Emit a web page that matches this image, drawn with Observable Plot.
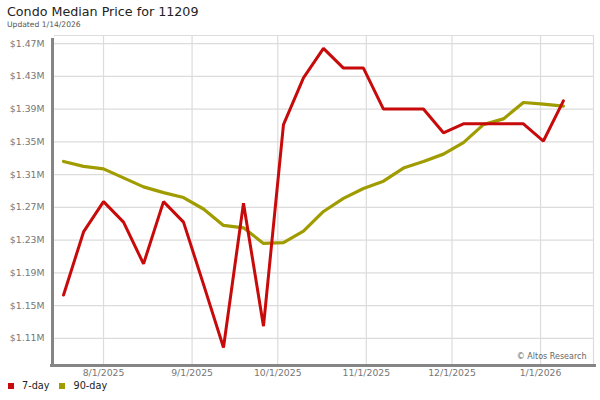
<!DOCTYPE html>
<html><head><meta charset="utf-8">
<script src="https://cdn.jsdelivr.net/npm/d3@7"></script>
<script src="https://cdn.jsdelivr.net/npm/@observablehq/plot@0.6"></script>
<style>
html,body{margin:0;padding:0;background:#fff;}
body{font-family:"DejaVu Sans",sans-serif;width:600px;height:400px;position:relative;overflow:hidden;}
#head{height:32px;position:relative;}
#title{position:absolute;left:7px;top:4px;font-size:12.7px;color:#222;white-space:nowrap;}
#sub{position:absolute;left:7px;top:20px;font-size:7.6px;color:#555;white-space:nowrap;}
#chart svg{display:block;overflow:visible;}
#legend{position:absolute;left:8px;top:380px;font-size:9.7px;color:#222;display:flex;align-items:center;white-space:nowrap;}
#legend .sw{display:inline-block;width:6px;height:6px;margin-right:8px;}
#legend .item{display:flex;align-items:center;margin-right:10px;}
</style>
</head><body>
<div id="head"><div id="title">Condo Median Price for 11209</div><div id="sub">Updated 1/14/2026</div></div>
<div id="chart"></div>
<div id="legend"></div>
<script>
const dates = ["2025-07-18","2025-07-25","2025-08-01","2025-08-08","2025-08-15","2025-08-22","2025-08-29",
  "2025-09-05","2025-09-12","2025-09-19","2025-09-26","2025-10-03","2025-10-10","2025-10-17","2025-10-24",
  "2025-10-31","2025-11-07","2025-11-14","2025-11-21","2025-11-28","2025-12-05","2025-12-12","2025-12-19",
  "2025-12-26","2026-01-02","2026-01-09"];
const sevenDay = [1163000,1240000,1277000,1252000,1201000,1277000,1252000,1176000,1099000,1275000,1125000,
  1371000,1428000,1464000,1440000,1440000,1390000,1390000,1390000,1361000,1372000,1372000,1372000,1372000,
  1351000,1400000];
const ninetyDay = [1326000,1320000,1317000,1306000,1295000,1288000,1282000,1268000,1248000,1245000,1226000,
  1227000,1241000,1265000,1281000,1293000,1302000,1318000,1326000,1335000,1349000,1371000,1378000,1398000,
  1396000,1393500];
const xTicks = ["2025-08-01","2025-09-01","2025-10-01","2025-11-01","2025-12-01","2026-01-01"];
const yTicks = [1110000,1150000,1190000,1230000,1270000,1310000,1350000,1390000,1430000,1470000];
const seriesNames = ["7-day","90-day"];
const colors = ["#c80a0a","#a09c00"];

const parse = d3.utcParse("%Y-%m-%d");
const data = [];
dates.forEach((d,i)=>{
  data.push({date:parse(d), value:sevenDay[i], series:seriesNames[0]});
  data.push({date:parse(d), value:ninetyDay[i], series:seriesNames[1]});
});
const xDomain = [new Date(Date.UTC(2025,6,14,20)), new Date(Date.UTC(2026,0,19,13))];
const yDomain = [1078200,1479800];
const grid = "#dcdcdc";
const axisGray = "#858585";

const chart = Plot.plot({
  width: 600, height: 350,
  marginLeft: 54, marginRight: 7, marginTop: 3, marginBottom: 18,
  style: {fontFamily: "DejaVu Sans, sans-serif", fontSize: "9.3px", background: "transparent"},
  x: {type: "utc", domain: xDomain, label: null},
  y: {domain: yDomain, label: null},
  marks: [
    Plot.ruleX(xTicks.map(parse), {stroke: grid, strokeWidth: 1.2}),
    Plot.ruleY(yTicks, {stroke: grid, strokeWidth: 1.2}),
    Plot.ruleY([yDomain[1]], {stroke: grid, strokeWidth: 1.2}),
    Plot.ruleX([xDomain[1]], {stroke: grid, strokeWidth: 1.2}),
    Plot.line(data.filter(d=>d.series===seriesNames[1]), {x:"date", y:"value", stroke: colors[1], strokeWidth: 3.2, strokeLinejoin:"miter"}),
    Plot.line(data.filter(d=>d.series===seriesNames[0]), {x:"date", y:"value", stroke: colors[0], strokeWidth: 3, strokeLinejoin:"miter"}),
    Plot.ruleX([xDomain[0]], {stroke: axisGray, strokeWidth: 3, dx: -2, y1: yDomain[0], y2: yDomain[1], insetBottom: -3}),
    Plot.ruleY([yDomain[0]], {stroke: axisGray, strokeWidth: 3, dy: 1, insetLeft: -4, insetRight: -3}),
    Plot.axisY(yTicks, {tickSize: 0, tickPadding: 10, label: null, tickFormat: d => "$" + (d/1e6).toFixed(2) + "M", fill: "#777"}),
    Plot.axisX(xTicks.map(parse), {tickSize: 0, tickPadding: 5, label: null, tickFormat: d3.utcFormat("%-m/%-d/%Y"), fill: "#777"}),
    Plot.text(["© Altos Research"], {frameAnchor: "bottom-right", dx: -7, dy: -6, fill: "#666", fontSize: 8})
  ]
});
document.getElementById("chart").appendChild(chart);

const legend = document.getElementById("legend");
seriesNames.forEach((n,i)=>{
  const item = document.createElement("span");
  item.className = "item";
  item.innerHTML = `<span class="sw" style="background:${colors[i]}"></span><span>${n}</span>`;
  legend.appendChild(item);
});
</script>
</body></html>
